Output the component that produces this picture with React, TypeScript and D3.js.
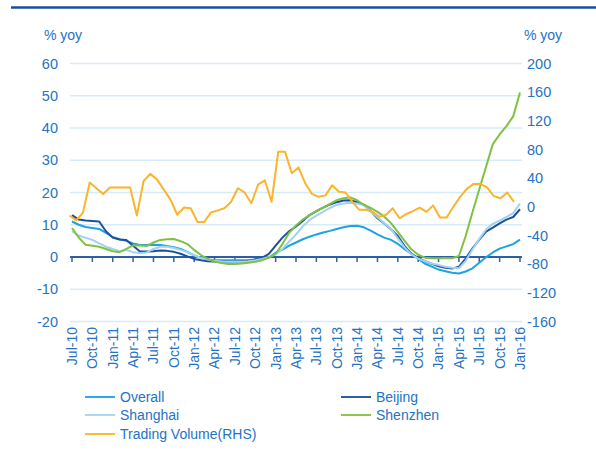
import * as d3 from 'd3';
import React from 'react';

// monthly, Jul-10 .. Jan-16
const months = d3.timeMonth.range(new Date(2010, 6, 1), new Date(2016, 1, 1));
const tickLabels = [
  'Jul-10', 'Oct-10', 'Jan-11', 'Apr-11', 'Jul-11', 'Oct-11', 'Jan-12', 'Apr-12',
  'Jul-12', 'Oct-12', 'Jan-13', 'Apr-13', 'Jul-13', 'Oct-13', 'Jan-14', 'Apr-14',
  'Jul-14', 'Oct-14', 'Jan-15', 'Apr-15', 'Jul-15', 'Oct-15', 'Jan-16',
];

const overall = [
  11, 10, 9.3, 9, 8.7, 7.5, 6.2, 5.5, 5, 4.2, 3.7, 3.7, 3.8, 3.7, 3.4, 3, 2.5, 1.6,
  0.5, -0.3, -0.8, -1, -1, -1, -1, -1, -1, -0.8, -0.5, -0.2, 1.3, 2.3, 3.5, 4.5,
  5.5, 6.3, 7, 7.6, 8.1, 8.7, 9.2, 9.6, 9.7, 9.2, 8.2, 7, 6, 5.3, 4.1, 2.4, 1,
  -0.6, -2.1, -3, -3.9, -4.4, -4.9, -5.1, -4.5, -3.5, -1.8, -0.1, 1.4, 2.6, 3.3, 4, 5.4,
];
const beijing = [
  13, 11.6, 11.3, 11.2, 11, 8, 6, 5.4, 5.3, 3.5, 1.7, 1.7, 1.8, 2, 1.9, 1.6, 1, 0.2,
  -0.6, -1, -1.3, -1.4, -1.5, -1.5, -1.5, -1.4, -1.2, -0.8, -0.3, 1, 3.5, 6, 8, 9.5,
  11.2, 13, 14.2, 15.3, 16.3, 17, 17.5, 17.6, 17, 16.2, 14.3, 12, 10.4, 8.6, 6.5,
  3.4, 1, -0.3, -1.3, -2.1, -2.9, -3.3, -3.6, -3.0, -0.5, 2.7, 5.4, 7.9, 9.1, 10.4,
  11.6, 12.4, 14.8,
];
const shanghai = [
  8, 6.6, 6, 5.3, 4.2, 3.2, 2.5, 1.8, 2.2, 1.5, 1.2, 1.4, 2.5, 3.2, 3.2, 2.8, 2.2, 1.5,
  0.5, -0.3, -0.8, -1.2, -1.4, -1.5, -1.5, -1.5, -1.3, -1, -0.6, 0, 0.8, 2.5, 4.8, 7,
  9.5, 11.5, 12.8, 14, 15.2, 16.2, 16.6, 16.8, 16.6, 16, 14.2, 12.3, 10.5, 8.7, 5.8,
  3, 0.8, -0.5, -1.3, -2, -2.5, -3, -3.3, -3.5, -1.2, 2.3, 5.6, 8.5, 10.3, 11.3, 12.4,
  13.6, 16.6,
];
const shenzhen = [
  9, 6, 3.8, 3.5, 3.2, 2.5, 1.8, 1.5, 2.5, 3.6, 3.6, 3.4, 4.5, 5.3, 5.5, 5.6, 4.9, 4,
  2.2, 0.6, -0.6, -1.4, -1.9, -2.2, -2.2, -2, -1.8, -1.5, -1, -0.2, 1, 4, 7.5, 9.8,
  11.6, 13, 14.2, 15.3, 16.5, 17.6, 18.2, 18.5, 17.6, 16.2, 15.2, 14, 12.5, 10.5,
  7.8, 5, 2.4, 0.7, -0.2, -0.4, -0.4, -0.3, -0.4, 0.3, 6.5, 13.9, 21, 28, 35, 38,
  40.6, 43.6, 51,
];
// right-hand scale
const tradingVolume = [
  -12, -19, -8, 34, 26, 18, 27, 27, 27, 27, -12, 36, 46, 38, 24, 10, -11, -1, -2,
  -21, -21, -8, -5, -2, 7, 26, 20, 5, 31, 37, 7, 77, 77, 47, 55, 33, 18, 14, 16, 30,
  21, 20, 7, -4, -4, -7, -14, -11, -2, -16, -10, -6, -1, -7, 2, -15, -15, 0, 14, 25,
  32, 32, 27, 15, 12, 20, 7,
];

const leftTicks = [60, 50, 40, 30, 20, 10, 0, -10, -20];
const rightTicks = [200, 160, 120, 80, 40, 0, -40, -80, -120, -160];

const series = [
  { name: 'Overall', values: overall, color: '#1ea2e3', legend: '#2fa9e3', right: false },
  { name: 'Beijing', values: beijing, color: '#1d4f9d', legend: '#2e5fa5', right: false },
  { name: 'Shanghai', values: shanghai, color: '#9fd3f1', legend: '#a9d8f4', right: false },
  { name: 'Shenzhen', values: shenzhen, color: '#7fc241', legend: '#8cc84b', right: false },
  { name: 'Trading Volume(RHS)', values: tradingVolume, color: '#fbb42b', legend: '#fdb92f', right: true },
];

const W = 596;
const H = 451;
const textColor = '#2473c4';
const font = '"Liberation Sans", Arial, sans-serif';

export default function App() {
  const plotLeft = 70;
  const plotRight = 522;

  const x = d3.scaleLinear().domain([0, months.length - 1]).range([72, 520]);
  const xRhs = d3.scaleLinear().domain([0, months.length - 1]).range([69.5, 514]);
  const y = d3.scaleLinear().domain([-20, 60]).range([321.5, 63.5]);
  const yR = d3.scaleLinear().domain([-160, 200]).range([321.5, 63.5]);

  const fmt = d3.timeFormat('%b-%y');

  const line = (vals: number[], right: boolean) =>
    d3.line<number>()
      .x((_, i) => (right ? xRhs(i) : x(i)))
      .y((d) => (right ? yR(d) : y(d)))(vals) || '';

  const tickIdx = months.map((m, i) => i).filter((i) => tickLabels.includes(fmt(months[i])));

  const legendRows = [
    { s: series[0], lx: 85, ly: 397 },
    { s: series[1], lx: 341, ly: 397 },
    { s: series[2], lx: 85, ly: 415 },
    { s: series[3], lx: 341, ly: 415 },
    { s: series[4], lx: 85, ly: 434 },
  ];

  return (
    <svg width={W} height={H} style={{ position: 'absolute', left: 0, top: 0, background: '#fff' }}
      fontFamily={font}>
      <line x1={11} x2={W} y1={7.5} y2={7.5} stroke="#1a4f9f" strokeWidth={2.5} />

      <text x={44} y={40} fontSize={14} fill={textColor}>% yoy</text>
      <text x={524} y={40} fontSize={14} fill={textColor}>% yoy</text>

      {leftTicks.filter((t) => t !== 0).map((t) => (
        <line key={'g' + t} x1={plotLeft} x2={plotRight} y1={y(t)} y2={y(t)}
          stroke="#d6ecf9" strokeWidth={1.5} />
      ))}

      {leftTicks.map((t) => (
        <text key={'l' + t} x={58} y={y(t)} dy="0.36em" textAnchor="end" fontSize={14.5}
          fill={textColor}>{t}</text>
      ))}
      {rightTicks.map((t) => (
        <text key={'r' + t} x={527} y={yR(t)} dy="0.36em" fontSize={14.5}
          fill={textColor}>{t}</text>
      ))}

      {/* zero axis with ticks */}
      <line x1={plotLeft} x2={plotRight} y1={y(0)} y2={y(0)} stroke="#2d5fa9" strokeWidth={2} />
      {tickIdx.map((i) => (
        <line key={'t' + i} x1={x(i)} x2={x(i)} y1={y(0)} y2={y(0) + 5} stroke="#2d5fa9"
          strokeWidth={1.5} />
      ))}
      {tickIdx.map((i) => (
        <text key={'x' + i} transform={`translate(${x(i)},327) rotate(-90)`} dy="0.35em"
          textAnchor="end" fontSize={14} fill={textColor}>{fmt(months[i])}</text>
      ))}

      {series.map((s) => (
        <path key={s.name} d={line(s.values, s.right)} fill="none" stroke={s.color}
          strokeWidth={2} strokeLinejoin="round" />
      ))}

      {legendRows.map(({ s, lx, ly }) => (
        <g key={'lg' + s.name}>
          <line x1={lx} x2={lx + 30} y1={ly} y2={ly} stroke={s.legend} strokeWidth={2} />
          <text x={lx + 35} y={ly} dy="0.36em" fontSize={14} fill={textColor}>{s.name}</text>
        </g>
      ))}
    </svg>
  );
}
